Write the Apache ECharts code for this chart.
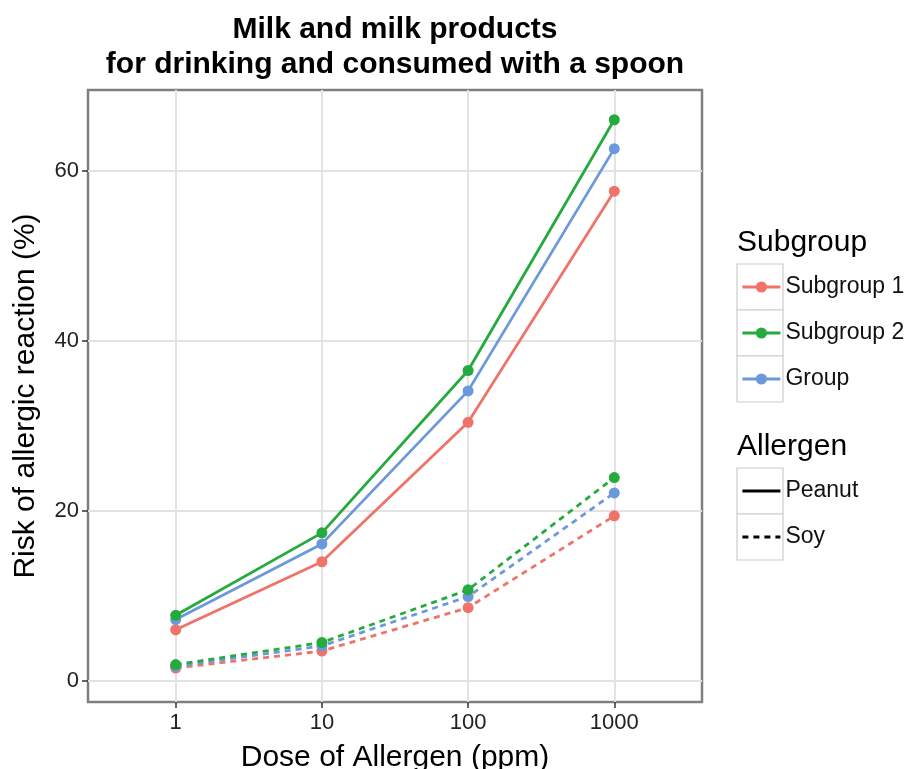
<!DOCTYPE html>
<html>
<head>
<meta charset="utf-8">
<script src="https://cdn.jsdelivr.net/npm/echarts@6/dist/echarts.min.js"></script>
<style>
  html, body { margin: 0; padding: 0; background: #fff; }
  #chart { width: 915px; height: 769px; }
</style>
</head>
<body>
<div id="chart"></div>
<script>
const doses = ["1", "10", "100", "1000"];
const yTicks = [0, 20, 40, 60];

const peanutSub1 = [6.0, 14.0, 30.4, 57.6];
const peanutSub2 = [7.7, 17.4, 36.5, 66.0];
const peanutGroup = [7.2, 16.1, 34.1, 62.6];

const soySub1 = [1.5, 3.5, 8.6, 19.4];
const soySub2 = [1.9, 4.5, 10.7, 23.9];
const soyGroup = [1.7, 4.1, 9.9, 22.1];

const subgroupNames = ["Subgroup 1", "Subgroup 2", "Group"];
const allergenNames = ["Peanut", "Soy"];
const colors = ["#f0736a", "#25ab3d", "#6c98dc"];

function toPoints(values) {
  return values.map((v, i) => [i, v]);
}

function makeSeries(name, values, color, dashed) {
  return {
    name,
    type: "line",
    data: toPoints(values),
    symbol: "circle",
    symbolSize: 11,
    itemStyle: { color },
    lineStyle: { color, width: 2.8, type: dashed ? [6, 5] : "solid" },
    emphasis: { disabled: true },
    z: 3,
  };
}

function keyBox(y) {
  return {
    type: "rect",
    shape: { x: 737, y, width: 46, height: 46 },
    style: { fill: "#fff", stroke: "#cccccc", lineWidth: 1.2 },
    z: -1,
  };
}

const chart = echarts.init(document.getElementById("chart"));

// solid (peanut) series first so the legend picks up the solid line style
const series = [
  makeSeries(subgroupNames[0], peanutSub1, colors[0], false),
  makeSeries(subgroupNames[2], peanutGroup, colors[2], false),
  makeSeries(subgroupNames[1], peanutSub2, colors[1], false),
  makeSeries(subgroupNames[0], soySub1, colors[0], true),
  makeSeries(subgroupNames[2], soyGroup, colors[2], true),
  makeSeries(subgroupNames[1], soySub2, colors[1], true),
  {
    name: allergenNames[0], type: "line", data: [], symbol: "none",
    lineStyle: { color: "#000", width: 2.8, type: "solid" }, itemStyle: { color: "#000" },
  },
  {
    name: allergenNames[1], type: "line", data: [], symbol: "none",
    lineStyle: { color: "#000", width: 2.8, type: [6, 5] }, itemStyle: { color: "#000" },
  },
];

const legendCommon = {
  orient: "vertical",
  left: 741,
  padding: 0,
  itemWidth: 38,
  itemHeight: 14,
  itemGap: 22,
  selectedMode: false,
  lineStyle: { width: 2.8 },
  textStyle: { fontFamily: "Liberation Sans", fontSize: 23, color: "#111", lineHeight: 24 },
};

const titleFont = { fontFamily: "Liberation Sans", fontWeight: "normal", fontSize: 30, color: "#000" };

chart.setOption({
  animation: false,
  title: [
    {
      text: "Milk and milk products\nfor drinking and consumed with a spoon",
      left: 395,
      textAlign: "center",
      top: 12,
      padding: 0,
      textStyle: { fontFamily: "Liberation Sans", fontWeight: "bold", fontSize: 30, lineHeight: 35, color: "#000" },
    },
    { text: "Subgroup", left: 737, top: 228, padding: 0, textStyle: titleFont },
    { text: "Allergen", left: 737, top: 432, padding: 0, textStyle: titleFont },
  ],
  legend: [
    Object.assign({}, legendCommon, { top: 275, data: subgroupNames }),
    Object.assign({}, legendCommon, { top: 479, data: allergenNames, itemStyle: { opacity: 0 } }),
  ],
  grid: {
    left: 88,
    top: 90,
    right: 213,
    bottom: 67,
    outerBoundsMode: "none",
    containLabel: false,
    show: true,
    borderColor: "#7f7f7f",
    borderWidth: 2.5,
    backgroundColor: "#fff",
  },
  xAxis: {
    type: "value",
    min: -0.6,
    max: 3.6,
    name: "Dose of Allergen (ppm)",
    nameLocation: "middle",
    nameGap: 41,
    nameTextStyle: { fontFamily: "Liberation Sans", fontSize: 30, color: "#000" },
    axisLine: { show: false, onZero: false },
    axisTick: { show: true, length: 6, customValues: [0, 1, 2, 3], lineStyle: { color: "#333", width: 1.5 } },
    axisLabel: {
      customValues: [0, 1, 2, 3],
      formatter: v => doses[Math.round(v)],
      fontFamily: "Liberation Sans",
      fontSize: 22,
      color: "#222",
      margin: 10,
    },
    splitLine: { show: true, lineStyle: { color: "#e3e3e3", width: 2 } },
  },
  yAxis: {
    type: "value",
    min: -2.5,
    max: 69.5,
    name: "Risk of allergic reaction (%)",
    nameLocation: "middle",
    nameGap: 47,
    nameTextStyle: { fontFamily: "Liberation Sans", fontSize: 30, color: "#000" },
    axisLine: { show: false, onZero: false },
    axisTick: { show: true, length: 6, customValues: yTicks, lineStyle: { color: "#333", width: 1.5 } },
    axisLabel: {
      customValues: yTicks,
      fontFamily: "Liberation Sans",
      fontSize: 22,
      color: "#222",
      margin: 9,
    },
    splitLine: { show: true, lineStyle: { color: "#e3e3e3", width: 2 } },
  },
  graphic: [keyBox(264), keyBox(310), keyBox(356), keyBox(468), keyBox(514)],
  series,
});
</script>
</body>
</html>
